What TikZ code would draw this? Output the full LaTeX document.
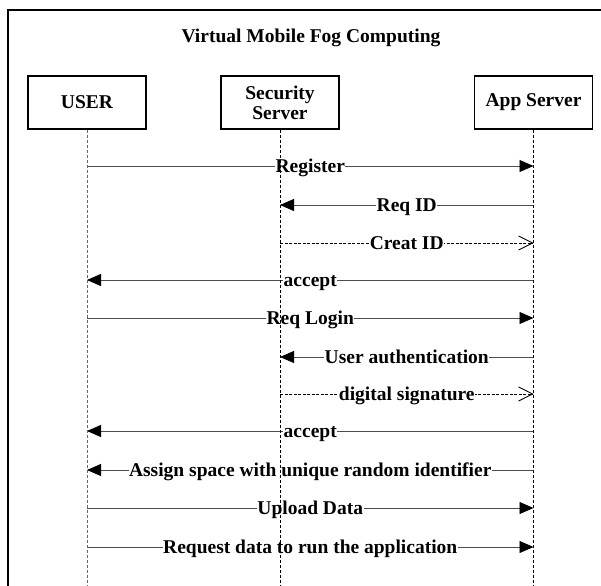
\documentclass[tikz,border=0pt]{standalone}
\usepackage{fontspec}
\setmainfont{Liberation Serif}
\usetikzlibrary{arrows.meta}
\begin{document}
\begin{tikzpicture}[x=1pt,y=-1pt,
  txt/.style={font=\bfseries\fontsize{19.5}{20}\selectfont},
  actor/.style={txt, draw, line width=1.1pt, minimum width=118pt, minimum height=53pt, align=center, inner sep=0pt},
  life/.style={line width=0.7pt, dash pattern=on 3pt off 2pt},
  msg/.style={line width=0.8pt, draw=black!70, -{Triangle[length=14pt,width=12pt,color=black]}},
  ret/.style={line width=0.6pt, dash pattern=on 3pt off 1.5pt, -{Straight Barb[length=14pt,width=14pt,line width=0.8pt]}},
  lbl/.style={txt, fill=white, inner xsep=0.5pt, inner ysep=1pt, text height=12.9pt, text depth=0pt}
]
\useasboundingbox (0,0) rectangle (601,585);
\clip (0,0) rectangle (601,585);
\draw[line width=1.3pt] (8,10) rectangle (640,640);
\node[txt, anchor=base] (title) at (311,43) {Virtual Mobile Fog Computing};
\node[actor] (user) at (87,102.5) {USER};
\node[actor] (sec) at (280,102.5) {Security\\Server};
\node[actor] (app) at (533.5,102.5) {App Server};
\coordinate (uend) at (87,600);
\coordinate (send) at (280,600);
\coordinate (aend) at (533.5,600);
% message anchor points
\foreach \i/\y in {1/166,2/205,3/243,4/280,5/318,6/357,7/394,8/431,9/470,10/508,11/547}{
  \coordinate (u\i) at (87,\y);
  \coordinate (s\i) at (280,\y);
  \coordinate (a\i) at (533.5,\y);
}
\draw[msg] (u1) -- node[lbl]{Register} (a1);
\draw[msg] (a2) -- node[lbl]{Req ID} (s2);
\draw[ret] (s3) -- node[lbl]{Creat ID} (a3);
\draw[msg] (a4) -- node[lbl]{accept} (u4);
\draw[msg] (u5) -- node[lbl]{Req Login} (a5);
\draw[msg] (a6) -- node[lbl]{User authentication} (s6);
\draw[ret] (s7) -- node[lbl]{digital signature} (a7);
\draw[msg] (a8) -- node[lbl]{accept} (u8);
\draw[msg] (a9) -- node[lbl]{Assign space with unique random identifier} (u9);
\draw[msg] (u10) -- node[lbl]{Upload Data} (a10);
\draw[msg] (u11) -- node[lbl]{Request data to run the application} (a11);
% lifelines
\draw[life, draw=black!60, line width=1pt] (user.south) -- (uend);
\draw[life] (sec.south) -- (send);
\draw[life] (app.south) -- (aend);
\end{tikzpicture}
\end{document}
